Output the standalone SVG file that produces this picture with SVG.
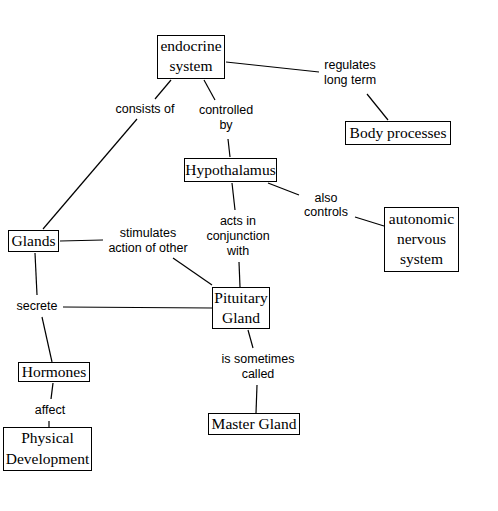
<svg xmlns="http://www.w3.org/2000/svg" width="498" height="511" viewBox="0 0 498 511">
<style>
.box{fill:#fff;stroke:#000;stroke-width:1}
.nt{font-family:"Liberation Serif","Times New Roman",serif;font-size:15.5px;fill:#000;text-anchor:middle}
.lt{font-family:"Liberation Sans",Arial,sans-serif;font-size:12.5px;fill:#000;text-anchor:middle}
.c line{stroke:#000;stroke-width:1.2}
</style>
<rect width="498" height="511" fill="#fff"/>
<g id="connectors" class="c">
<line x1="171" y1="80" x2="155" y2="99"/>
<line x1="137" y1="119" x2="43" y2="229"/>
<line x1="204" y1="80" x2="215" y2="100"/>
<line x1="228" y1="139" x2="230" y2="157"/>
<line x1="226" y1="62" x2="319" y2="72"/>
<line x1="367" y1="94" x2="388" y2="120"/>
<line x1="232" y1="183" x2="235" y2="210"/>
<line x1="239" y1="262" x2="240" y2="287"/>
<line x1="268" y1="183" x2="299" y2="195"/>
<line x1="355" y1="217" x2="384" y2="226"/>
<line x1="60" y1="241" x2="103" y2="240"/>
<line x1="173" y1="258" x2="212" y2="285"/>
<line x1="35" y1="253" x2="37" y2="295"/>
<line x1="63" y1="307" x2="212" y2="308"/>
<line x1="42" y1="317" x2="52" y2="362"/>
<line x1="53" y1="383" x2="51" y2="399"/>
<line x1="49" y1="421" x2="49" y2="427"/>
<line x1="248" y1="330" x2="253" y2="348"/>
<line x1="257" y1="385" x2="256" y2="413"/>
</g>
<g id="labels">
<text class="lt" x="145" y="113">consists of</text>
<text class="lt" x="226" y="114">controlled</text>
<text class="lt" x="226" y="129">by</text>
<text class="lt" x="350" y="69">regulates</text>
<text class="lt" x="350" y="84">long term</text>
<text class="lt" x="326" y="202">also</text>
<text class="lt" x="326" y="216">controls</text>
<text class="lt" x="238" y="225">acts in</text>
<text class="lt" x="238" y="240">conjunction</text>
<text class="lt" x="238" y="255">with</text>
<text class="lt" x="148" y="237">stimulates</text>
<text class="lt" x="148" y="252">action of other</text>
<text class="lt" x="37" y="310">secrete</text>
<text class="lt" x="50" y="414">affect</text>
<text class="lt" x="258" y="363">is sometimes</text>
<text class="lt" x="258" y="378">called</text>
</g>
<g id="endocrine-system">
<rect class="box" x="157.5" y="35.5" width="67" height="43"/>
<text class="nt" x="191" y="51">endocrine</text>
<text class="nt" x="191" y="71">system</text>
</g>
<g id="body-processes">
<rect class="box" x="345.5" y="121.5" width="105" height="23"/>
<text class="nt" x="398" y="138">Body processes</text>
</g>
<g id="hypothalamus">
<rect class="box" x="184.5" y="158.5" width="92" height="23"/>
<text class="nt" x="230.5" y="175">Hypothalamus</text>
</g>
<g id="autonomic-nervous-system">
<rect class="box" x="384.5" y="207.5" width="74" height="64"/>
<text class="nt" x="421.5" y="224">autonomic</text>
<text class="nt" x="421.5" y="244">nervous</text>
<text class="nt" x="421.5" y="264">system</text>
</g>
<g id="glands">
<rect class="box" x="8.5" y="230.5" width="50" height="21"/>
<text class="nt" x="33.5" y="246">Glands</text>
</g>
<g id="pituitary-gland">
<rect class="box" x="212.5" y="287.5" width="57" height="41"/>
<text class="nt" x="241" y="303">Pituitary</text>
<text class="nt" x="241" y="323">Gland</text>
</g>
<g id="hormones">
<rect class="box" x="18.5" y="362.5" width="71" height="19"/>
<text class="nt" x="54" y="377">Hormones</text>
</g>
<g id="physical-development">
<rect class="box" x="3.5" y="427.5" width="88" height="43"/>
<text class="nt" x="47.5" y="443">Physical</text>
<text class="nt" x="47.5" y="464">Development</text>
</g>
<g id="master-gland">
<rect class="box" x="208.5" y="413.5" width="91" height="21"/>
<text class="nt" x="254" y="429">Master Gland</text>
</g>
</svg>
